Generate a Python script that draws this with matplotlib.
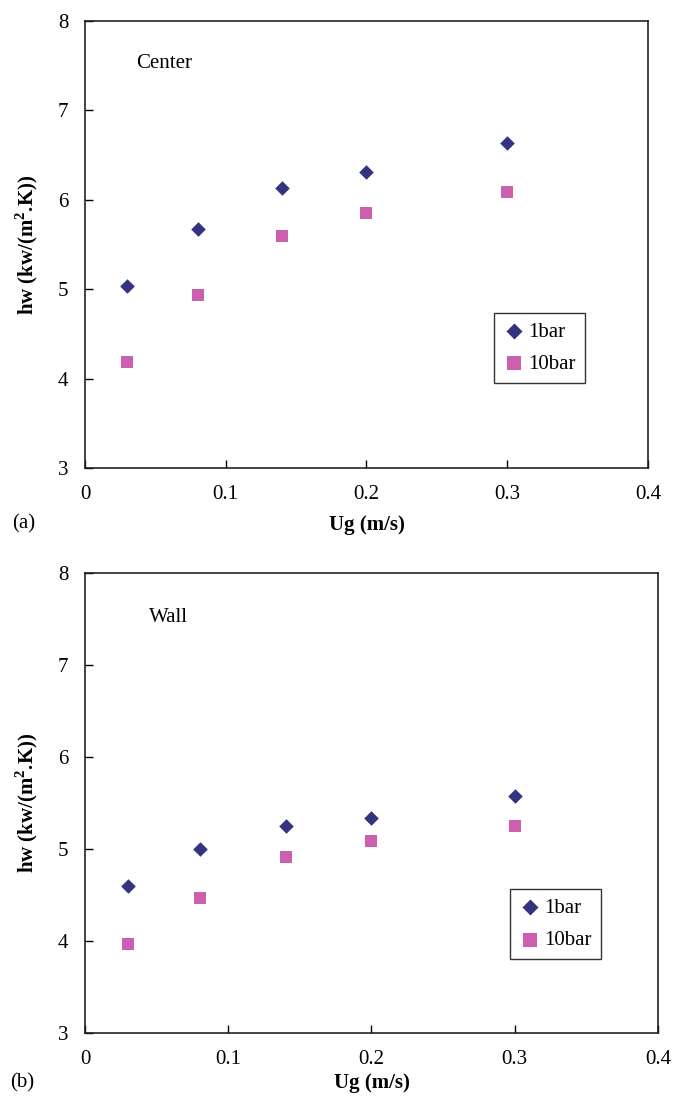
import matplotlib
matplotlib.use("agg")
import matplotlib.pyplot as plt

plt.rcParams["font.family"] = ["Liberation Serif", "DejaVu Serif"]
plt.rcParams["mathtext.fontset"] = "custom"
plt.rcParams["mathtext.rm"] = "Liberation Serif"
plt.rcParams["mathtext.bf"] = "Liberation Serif:bold"

# superficial gas velocity (m/s)
ug = [0.03, 0.08, 0.14, 0.20, 0.30]

# heat transfer coefficient, column center
center_1bar = [5.04, 5.67, 6.13, 6.31, 6.64]
center_10bar = [4.19, 4.94, 5.60, 5.85, 6.09]

# heat transfer coefficient, near wall
wall_1bar = [4.60, 5.00, 5.25, 5.34, 5.57]
wall_10bar = [3.97, 4.47, 4.91, 5.09, 5.25]

series_names = ["1bar", "10bar"]
navy = "#33337f"
pink = "#cc5fae"

fig = plt.figure(figsize=(6.74, 10.99), dpi=100)

panels = [
    dict(rect=[0.1261, 0.5742, 0.8353, 0.4067], y1=center_1bar, y10=center_10bar,
         title="Center", title_xy=(0.09, 0.906), tag="(a)", tag_y=-0.125,
         xpad=8, leg_anchor=(0.7265, 0.347)),
    dict(rect=[0.1261, 0.0601, 0.8501, 0.4186], y1=wall_1bar, y10=wall_10bar,
         title="Wall", title_xy=(0.111, 0.904), tag="(b)", tag_y=-0.108,
         xpad=3, leg_anchor=(0.742, 0.313)),
]

for p in panels:
    ax = fig.add_axes(p["rect"])
    ax.scatter(ug, p["y1"], marker="D", s=55, color=navy, linewidths=0,
               label=series_names[0], zorder=3)
    ax.scatter(ug, p["y10"], marker="s", s=80, color=pink, linewidths=0,
               label=series_names[1], zorder=3)
    ax.set_xlim(0, 0.4)
    ax.set_ylim(3, 8)
    ax.set_xticks([0, 0.1, 0.2, 0.3, 0.4])
    ax.set_xticklabels(["0", "0.1", "0.2", "0.3", "0.4"])
    ax.set_yticks([3, 4, 5, 6, 7, 8])
    ax.tick_params(direction="in", length=6, width=1, labelsize=15, pad=12)
    for s in ax.spines.values():
        s.set_linewidth(1.2)
        s.set_color("#222222")
    ax.set_xlabel("Ug (m/s)", fontsize=15, fontweight="bold", labelpad=p["xpad"])
    ax.set_ylabel(r"hw (kw/(m$^\mathbf{2}$.K))", fontsize=15,
                  fontweight="bold", labelpad=13)
    ax.text(p["title_xy"][0], p["title_xy"][1], p["title"], transform=ax.transAxes,
            fontsize=15, va="center", ha="left")
    ax.text(-0.13, p["tag_y"], p["tag"], transform=ax.transAxes, fontsize=15,
            va="center", ha="left")
    leg = ax.legend(loc="upper left", bbox_to_anchor=p["leg_anchor"], fontsize=15,
                    frameon=True, fancybox=False, edgecolor="black",
                    handletextpad=0.2, handlelength=1.0, borderpad=0.45,
                    labelspacing=0.6, scatterpoints=1, markerscale=1.1,
                    borderaxespad=0)
    leg.get_frame().set_linewidth(1.0)

fig.savefig("out.png", dpi=100)
